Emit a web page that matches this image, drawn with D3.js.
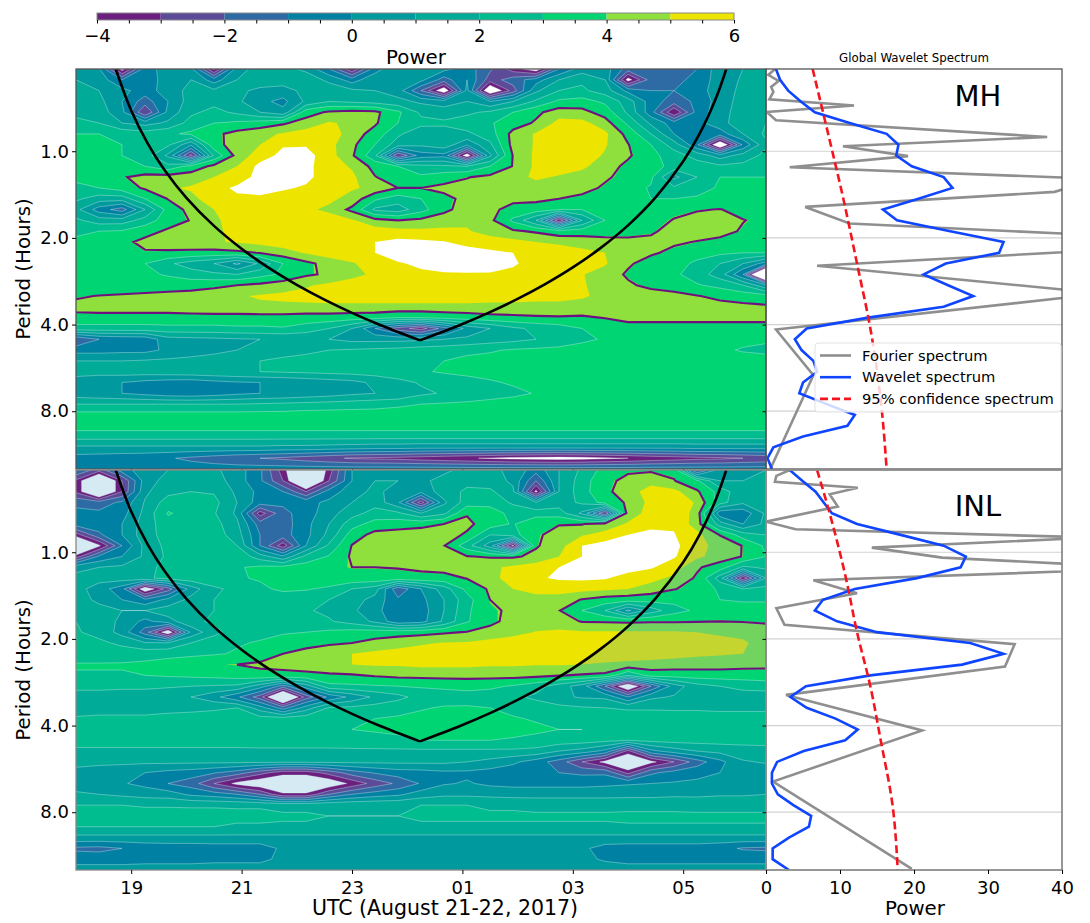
<!DOCTYPE html>
<html>
<head>
<meta charset="utf-8">
<script src="https://cdn.jsdelivr.net/npm/d3@7"></script>
<style>
body { margin: 0; background: #fff; }
text { font-family: "DejaVu Sans", sans-serif; fill: #000; }
</style>
</head>
<body>
<div id="box"></div>
<script>
// contour levels and colours
var levels = [-4, -3, -2, -1, 0, 1, 2, 3, 4, 5, 6];
var bandColors = ["#6b1f7f", "#5b4b98", "#2e6aa3", "#0081a3", "#009a9e", "#00ab98", "#00bd8f", "#00d574", "#8fe03c", "#ede500", "#ffffff"];
var dimColors = {4: "#72d35f", 5: "#c5d530"};

var hourTicks = [19, 21, 23, 25, 27, 29];
var hourLabels = ["19", "21", "23", "01", "03", "05"];
var periodTicks = [1, 2, 4, 8];
var powerTicks = [0, 10, 20, 30, 40];

// cone of influence, hours since 00 UTC Aug 21 and period in hours
var coiLeftHours = [18.72, 19, 19.3, 19.6, 20, 20.5, 21, 21.5, 22, 22.5, 23, 23.5, 24.23];
var coiLeftPeriods = [0.518, 0.722, 0.941, 1.16, 1.452, 1.817, 2.182, 2.547, 2.912, 3.277, 3.642, 4.007, 4.54];
var coiRightHours = [24.23, 25, 25.5, 26, 26.5, 27, 27.5, 28, 28.5, 29, 29.3, 29.6, 29.78];
var coiRightPeriods = [4.54, 3.982, 3.62, 3.258, 2.895, 2.533, 2.171, 1.809, 1.446, 1.084, 0.867, 0.649, 0.518];

// global spectra
var waveletMH = [1.35,1.9,3,4.7,6.6,11.3,16.3,17.9,17.6,19.7,24,25.2,20.6,15.8,17.7,24.9,32.1,31.5,24.3,21.3,24.6,28,24,13.8,5.5,3.9,4.8,6.4,6.9,5,4.5,8.2,12,11,5,1,0.2,0.8];
var waveletINL = [3.2,4.9,6.7,7.8,8.9,12.3,18.2,24,27,26.3,20.4,12,7.7,6.6,9.6,15,27.6,32.1,26.5,14.1,5.4,3.3,5.5,9.4,12.4,10.7,5.1,1.5,0.8,0.8,1.6,3.7,6.1,5.8,3.1,0.9,0.9,3.1];
var fourierPeriodsMH = [0.519,0.543,0.57,0.598,0.622,0.66,0.694,0.73,0.78,0.892,0.961,1.04,1.137,1.248,1.384,1.561,1.783,2.07,2.5,3.12,4.16,6,12.68];
var fourierMH = [1.2,0.3,1.7,0.7,1,0.45,11.9,0.1,1.35,38,10.4,19.2,3.2,45,39,5.3,11.3,64.7,6.9,45.6,1.35,6.4,0.6];
var fourierPeriodsINL = [0.518,0.543,0.569,0.597,0.629,0.694,0.783,0.832,0.889,0.964,1.044,1.137,1.251,1.388,1.565,1.788,2.087,2.495,3.13,4.16,6.26,12.58];
var fourierINL = [3.2,1.4,1.2,12.4,8.6,9.7,0,4,44.4,14.3,23.8,52.6,6.4,12.3,1.4,2.5,33.6,32.3,2.7,21.1,0.95,19.7];
var confRowsMH = [0, 6, 12, 18, 24, 30, 37];
var confMH = [6.3, 8.4, 10.45, 12.3, 14.1, 15.4, 16.3];
var confRowsINL = [0, 4, 10, 15, 20, 25, 31, 37];
var confINL = [6.9, 8.6, 10.8, 12.3, 14.1, 15.5, 17.1, 17.8];

// wavelet power, one row per scale (short to long period), one column per time step
var powerMH = [
[0.8,0.2,-4.5,-0.5,0.5,0.3,-4.2,0.5,1.5,1.3,0.8,-1,-3.8,-0.5,1,0.8,0.3,-0.5,-1.8,-3.5,-4.8,-1,0.5,0.5,-1.5,-1.5,-1.5,-1,0.6,1,1.2],
[1,0.6,-1,-1,0.8,1,-0.5,1,1.5,1.5,1.5,0.8,-0.5,0.8,1,0.3,-1.5,0,-2.5,-1.5,-0.5,1,1.8,1,-4.5,-1.5,-1.2,-0.8,0.6,1.1,1.3],
[1.2,1,0.3,-0.5,0.5,1.3,1.2,1.2,0.8,0.6,1.3,1.5,1.2,1,0.5,-2,-5,0.3,-5.5,-2.5,0.8,2,2.2,1.5,-0.3,-1,-1,-0.5,0.6,1.2,1.4],
[1.6,1.3,0,-1.5,0,1.5,1.7,1.2,0.3,-0.3,1.2,2,1.8,1.6,1.3,0.8,0.5,1,0,1,2.2,3.2,3.4,2.8,1.5,-0.5,-1.5,-0.8,0.5,1.4,1.6],
[1.8,1.5,0.3,-3,0.3,1.8,2.3,1.8,1,0.3,3.6,4.2,4.4,4.3,3.2,1.8,1.5,1.8,2.2,3,3.8,4.6,4.4,3.6,1.8,-0.6,-4,-0.6,0.6,1.5,1.8],
[2.2,2,1,0.6,1.2,2.4,3,3.2,3.5,3.9,4.5,5.1,4.8,4.2,3,2.3,2.2,2.5,2.9,3.5,4.2,5.3,5.3,4.5,2.8,0.8,-0.5,-0.3,0.6,1.7,2],
[3,3,2.7,2.5,2.8,3.2,3.8,4.4,4.7,5.1,5.4,5.5,4.6,3.6,2.2,1.3,1.5,1.8,2.5,4.4,5.1,5.7,5.7,5.2,3.7,2,0,-0.8,-0.5,1,2.2],
[3.2,3.2,3,2.6,2.2,0.2,3.7,4.5,5,5.9,5.9,5.3,4.3,3,1.5,1.2,1.6,0.2,1.8,4.4,5.1,5.6,5.6,5.1,4.1,3,1.5,-0.8,-5.5,-0.8,1.8],
[3.2,3.2,3,2.5,0.8,-3.3,2.2,4.4,5.5,6.3,6.4,5.4,4.2,2.2,-3,-0.5,-0.3,-4.8,0.8,4.1,5.2,5.6,5.5,4.9,4.2,3.3,2.5,1.6,0.5,1.4,2.3],
[3.3,3.3,3.1,3,2.3,3.4,4.3,5,6.3,6.6,6.3,5.4,4.9,3.7,3,2.3,2.2,2,3,4.1,5.2,5.5,5.2,4.5,3.8,3.5,2.6,2.5,2.2,2.3,2.6],
[3.2,3.4,3.95,4.4,4.5,4.6,5,5.7,6.2,6.4,6.2,5.6,5.2,4.1,3.5,3.2,3.6,4,4.3,4.6,5.2,4.9,4.6,4.2,3.7,3.2,0.7,2,3,3,3],
[2.8,3,3.5,4.2,4.9,5.1,5.8,6.1,6.2,6.1,5.9,5.6,5.1,4.8,4.05,4.05,4.3,4.4,4.4,4.4,4.5,4.4,4.4,3.9,3.4,2.9,2.2,2.7,3.1,3.1,3.1],
[2.2,1.5,1.5,3,4.1,4.8,5.4,5.9,5.9,5.7,5.5,5.2,4.7,3.2,2.5,3,3.8,4.3,4.4,4.3,4.3,4.05,3.8,3.4,3.2,3,3,3.1,3.2,3.2,3.2],
[1.3,-0.5,-1.5,1,3.4,4.4,5,5.8,5.8,5.6,5.2,4.8,3.8,1.8,1.5,2.6,3.8,4.5,4.3,3.7,3.5,3,3,3.2,3.3,3.4,3.8,3.95,4.1,3.6,3.4],
[2.2,1.5,1.5,2.4,3.6,4.1,4.8,5.5,5.7,5.7,5.6,5.5,5.1,4.4,4.05,4.3,4.6,4.8,4.3,2.8,1,-3.8,1,3,3.5,3.7,4.1,4.5,4.5,4.1,3.7],
[2.9,3,3.1,3.7,4.2,4.5,4.8,5.3,5.6,5.7,5.7,5.6,5.5,5.4,5.3,5.2,5.2,5.1,4.6,4.2,3.9,3.4,3.5,3.6,3.7,3.9,4.4,4.6,4.5,3.9,3.6],
[3.1,3.2,3.8,4.3,4.5,4.7,4.9,5.1,5.3,5.5,5.6,5.7,5.8,6,6.3,6.2,6.05,5.7,5.5,5.3,5,4.9,4.7,4.4,4.3,4.3,4.2,4,3.7,3.6,3.5],
[3.1,3.4,3.9,3.95,3.9,3.8,3.7,3.8,4.1,4.6,5.1,5.5,5.7,6,6.5,6.6,6.5,6.4,6.2,6,5.4,5.3,5.2,5,4.6,4.2,3.8,3.4,3.2,3,3],
[3,3.1,3.2,3,2.2,1.5,1,-0.2,1.2,3,3.8,4.4,4.9,5.5,5.9,6.2,6.4,6.6,6.5,6.1,5.7,5.6,5.4,5.1,4.2,3.6,3.4,2.8,2,1,-0.5],
[3,3.1,3.2,3.2,2.9,2.5,2.2,2,2.6,3.2,3.9,4.2,4.7,5.2,5.6,5.8,5.9,5.9,5.9,5.8,5.7,5.4,5.05,4.6,3.9,3.5,3.2,2.5,1.5,-1,-9],
[3.1,3.1,3.3,3.4,3.5,3.6,3.8,4.05,4.3,4.6,4.9,5.2,5.5,5.6,5.7,5.7,5.8,5.7,5.6,5.6,5.5,5.4,5.1,4.6,4.2,3.8,3.5,3.1,2.7,2,0.2],
[3.9,4.1,4.2,4.3,4.4,4.5,4.7,4.9,5.1,5.2,5.3,5.4,5.4,5.4,5.4,5.4,5.4,5.4,5.3,5.3,5.2,5.2,5.1,4.8,4.6,4.5,4.4,4.1,3.8,3.6,3.4],
[4.4,4.5,4.5,4.5,4.5,4.6,4.7,4.7,4.8,4.8,4.8,4.8,4.8,4.8,4.8,4.8,4.8,4.8,4.8,4.8,4.8,4.8,4.7,4.7,4.6,4.6,4.5,4.5,4.4,4.3,4.2],
[3.7,3.7,3.7,3.7,3.7,3.7,3.7,3.7,3.7,3.7,3.6,3.6,3.5,3.4,3,3,3.3,3.5,3.7,3.8,3.9,3.95,3.9,4.1,4.3,4.3,4.3,4.3,4.3,4.3,4.3],
[2.6,2.6,2.6,2.6,2.7,2.7,2.7,2.8,2.8,2.9,2.5,2,1,-1,-2.5,-3.5,-1.5,0.3,1,1.8,2.2,2.5,3,3.2,3.7,3.7,3.7,3.7,3.7,3.7,3.7],
[-2,-1,-0.8,-0.7,0.6,0.7,0.8,0.9,1,1.1,1.2,1,0.7,0.7,0.7,0.8,1,1.2,1.5,1.7,2,2.3,2.8,3.1,3.4,3.5,3.5,3.5,3.4,3.3,3.2],
[-0.4,-0.4,-0.3,-0.3,0.2,0.5,0.7,1,1.3,1.6,1.8,2,2.1,2.2,2.3,2.5,2.6,2.8,2.9,3.1,3.2,3.3,3.4,3.4,3.4,3.4,3.4,3.4,3.2,2.9,2.7],
[1,1,1,1.1,1.2,1.3,1.5,1.7,2,2.2,2.3,2.4,2.5,2.6,2.7,2.9,3,3.2,3.3,3.4,3.5,3.5,3.5,3.5,3.5,3.5,3.5,3.5,3.5,3.5,3.5],
[1.4,1.4,1.5,1.5,1.6,1.7,1.8,1.9,2,2.1,2.2,2.3,2.4,2.5,2.6,2.9,3.1,3.2,3.3,3.4,3.5,3.6,3.6,3.6,3.6,3.6,3.6,3.6,3.6,3.6,3.6],
[0.5,0.2,0,-0.3,-0.5,-0.6,-0.3,-0.1,0,0.1,0.3,0.5,0.7,1.2,1.7,2.1,2.4,2.7,2.9,3.1,3.3,3.5,3.6,3.6,3.6,3.6,3.6,3.6,3.6,3.6,3.6],
[0.4,0.2,0,-0.3,-0.6,-0.7,-0.5,-0.2,0,0.1,0.3,0.5,0.8,1,1.1,1.8,2.1,2.3,2.6,2.8,3.05,3.3,3.5,3.5,3.5,3.5,3.5,3.5,3.5,3.5,3.5],
[2,2,2,2,2,2,2,2,2.1,2.2,2.3,2.4,2.5,2.6,2.8,3,3.1,3.2,3.3,3.4,3.5,3.6,3.6,3.6,3.6,3.6,3.6,3.6,3.6,3.6,3.6],
[3.4,3.4,3.4,3.4,3.4,3.4,3.4,3.4,3.4,3.4,3.5,3.5,3.5,3.5,3.5,3.5,3.5,3.6,3.6,3.6,3.6,3.6,3.6,3.6,3.6,3.6,3.6,3.6,3.6,3.6,3.6],
[3.5,3.5,3.5,3.5,3.5,3.5,3.5,3.5,3.5,3.5,3.5,3.5,3.5,3.5,3.5,3.5,3.5,3.5,3.5,3.5,3.5,3.5,3.5,3.5,3.5,3.5,3.5,3.5,3.5,3.5,3.5],
[2.4,2.4,2.4,2.4,2.4,2.4,2.4,2.4,2.4,2.4,2.4,2.4,2.4,2.4,2.4,2.4,2.4,2.4,2.4,2.4,2.4,2.4,2.4,2.4,2.4,2.4,2.4,2.4,2.4,2.4,2.4],
[0.8,0.8,0.8,0.8,0.8,0.8,0.8,0.8,0.8,0.7,0.7,0.6,0.5,0.4,0.4,0.3,0.3,0.3,0.3,0.3,0.3,0.3,0.3,0.3,0.3,0.3,0.3,0.4,0.4,0.4,0.4],
[-0.4,-0.5,-0.6,-0.7,-0.9,-1.2,-1.5,-1.8,-2,-2.2,-2.5,-2.8,-3.1,-3.2,-3.3,-3.5,-3.7,-3.9,-4.1,-4.3,-4.4,-4.5,-4.4,-4.2,-4,-3.7,-3.5,-3.3,-3.2,-3,-2.8],
[-0.5,-0.5,-0.5,-0.5,-0.5,-0.5,-0.5,-0.5,-0.5,-0.5,-0.5,-0.5,-0.5,-0.5,-0.5,-0.5,-0.5,-0.5,-0.5,-0.5,-0.5,-0.5,-0.5,-0.5,-0.5,-0.5,-0.5,-0.5,-0.5,-0.5,-0.5]
];

var powerINL = [
[-1,-2.5,-0.5,0.6,1,1.2,1.2,0.5,-0.8,-3.5,-7,-3.5,0,0.8,0.5,0.3,0.8,1.3,1.2,0.8,-0.6,1,2.2,3.4,3.9,3.9,3.8,-2.5,0.5,0.8,1],
[-3.2,-6.5,-3,0.5,1.4,1.6,1.5,0.5,-0.8,-3,-7,-3,0,1,1,0.8,1.3,1.7,1.5,0.8,-2,1,2.5,3.8,4.3,4.7,4.1,3.2,1,1,1],
[-3.2,-6.5,-3,0.8,1.7,2,1.9,0.8,-0.3,-1,-3,-0.5,0.5,1.3,0.5,0.3,1.5,2.2,2.2,1.2,-4.3,1,2.6,3.8,4.6,5.4,5.3,4.2,2.6,1.2,1.3],
[-1.2,-1.5,-0.8,1.1,2.5,2.6,2.3,1,-0.5,-0.8,-0.3,0.2,1,1.6,0.2,-3.5,0.8,2.5,2.8,1.8,1,1.5,2.2,3.4,4.2,5.3,5.6,4.9,2.4,1.2,1.4],
[-0.8,-0.8,-0.4,1.3,3.1,2.6,2.1,0.8,-3.5,-1.3,-0.5,0.6,1.6,2.4,2.2,1,1.8,3.95,3.3,2.8,2.5,2.5,0.8,-3,4.6,5.3,5.8,4.6,-0.7,-0.7,1.2],
[-0.5,-0.5,0,1.5,2.6,2.6,2.4,1.2,-1.5,-1.5,-0.3,1,2.6,3.4,3.6,3.8,4.05,4.3,3.5,2.9,3.95,4,4,4.5,5.1,5.6,5.9,4.5,1.5,0,1.3],
[-3.5,-1.2,0,1.6,2.4,2.6,2.5,1.5,-1,-1.4,-0.3,1.3,3.5,4.4,4.5,4.5,4.5,3.9,2,2.6,3.9,4.4,4.9,5.3,6,6.4,6.05,5.3,4,2.5,2],
[-7,-4.2,-1,1.3,2.3,2.6,2.7,2,-1,-3.6,0,2.2,4.1,4.5,4.6,4.7,4.1,2.4,0.5,-4.3,3.95,4.6,6,6.5,6.7,6.7,6.3,5.2,4.8,4,2.8],
[-3.5,-0.8,0,1.2,2.2,2.7,2.8,2.7,1.5,0.2,2.3,3.1,4.2,4.5,4.6,4.7,4.5,4.1,3.95,3.9,4.3,5,6,6.6,6.8,6.6,6.1,5.2,4.6,4,3],
[0.8,1,1.2,1.8,2.2,2.6,2.8,2.9,3.2,3.3,3.5,3.8,4.05,4.05,4.1,4.2,4.4,4.6,4.8,5.2,5.5,6,6.6,6.7,6.4,6.1,5.5,4.2,3.5,1.8,2.2],
[1.2,1.4,1.5,1.8,2.3,2.6,2.7,2.9,3.1,3.3,3.6,3.7,3.7,3.7,3.7,3.8,3.7,4.1,4.7,5.4,5.9,6.1,6.2,6.1,5.6,5.3,4.8,3.9,1.5,-3.8,1],
[1.4,0.5,-0.6,-5,-2.5,0.5,1.8,2.3,2.8,3.2,3.1,2.8,2,1.5,-1.8,0,1.5,3.3,4.2,5,5.4,5.5,5.3,5.2,5,4.6,4.1,3.7,2.8,2,2.3],
[1.4,0.8,0,-0.8,0.3,1.3,2,2.2,2.3,2.4,2.3,2,1.5,0.6,-0.8,-0.3,1,2.6,4.05,4.5,4.6,4.5,4,3.6,3.5,3.4,3.3,3.1,3,2.9,2.9],
[1.5,1.3,1,1,1.5,1.9,2,2,2.1,2.1,2.1,1.8,1.2,0.3,-0.7,-0.5,1,2.8,3.9,4.2,4.3,4.1,3,2,-0.2,1.5,2.6,3.2,3.4,3.4,3.4],
[2,1.5,0.8,-0.3,0.6,1.7,2.2,2.3,2.4,2.5,2.4,2.1,1.6,0.8,-0.7,-0.4,1.2,2.9,3.8,4.4,4.5,4.4,4,3.95,3.9,3.95,3.95,4,4.05,4,3.9],
[2.1,1.7,0.6,-1.5,-5,0.3,1.7,2.5,2.7,2.9,3,3.2,3.4,3.5,3.6,3.7,3.9,4.1,4.4,4.7,5.05,5.2,5.1,5.1,5.1,5.1,5.1,5,4.9,4.8,4.6],
[2.2,2.2,1.8,1.1,1.1,2,2.6,2.9,3.1,3.4,3.7,3.9,4.05,4.4,4.7,4.9,5.05,5.1,5.3,5.5,5.5,5.5,5.5,5.5,5.5,5.5,5.4,5.3,5.2,5.1,4.7],
[2.4,2.4,2.5,2.6,2.7,2.8,2.9,3.1,3.6,4.05,4.4,4.7,5,5.2,5.3,5.4,5.5,5.5,5.5,5.5,5.5,5.5,5.5,5.4,5.4,5.4,5.3,5.2,5.1,5,4.6],
[3.1,3.1,3.1,3.2,3.4,3.6,3.95,4.05,4.2,4.3,4.5,4.7,5,5.1,5.1,5.2,5.2,5.2,5.1,5.1,5.05,5.05,5,4.9,4.8,4.7,4.6,4.5,4.5,4.4,4.3],
[2.9,2.9,2.9,3,3.1,3.2,3.3,3.5,3.8,3.8,3.8,3.9,3.95,4.15,4.3,4.35,4.4,4.4,4.4,4.4,4.3,4.1,3.95,3.8,2,3.4,3.4,3.5,3.5,3.5,3.6],
[2.3,2.3,2.2,2.2,2.1,2,1.9,1.8,0.5,-1.5,0.5,2.7,2.8,2.9,3,3.1,3.2,3.3,3.2,2.9,2.4,1.5,0.5,-2,-5.5,-2,0.5,1.6,2,2.3,2.4],
[1.5,1.5,1.5,1.5,1.4,1,0.3,-0.8,-2.5,-7,-2.5,-0.8,0.3,1.2,1.7,2.4,2.5,2.6,2.5,2.2,1.8,1.2,0.9,0.8,-1,0.8,1.1,1.3,1.4,1.5,1.5],
[1.6,1.6,1.6,1.6,1.7,1.8,1.9,2,0.5,-1.5,0.5,2.1,2.2,2.4,2.7,2.9,3.1,3.1,3,2.7,2.5,2.3,2.1,2,1.9,1.9,1.9,1.9,1.9,1.9,1.9],
[2.1,2.2,2.2,2.2,2.3,2.3,2.3,2.4,2.4,2.5,2.6,2.7,2.9,3,3.1,3.3,3.3,3.4,3.3,3.1,2.9,2.7,2.6,2.5,2.4,2.4,2.3,2.3,2.2,2.2,2.2],
[2.6,2.6,2.6,2.6,2.6,2.6,2.7,2.7,2.7,2.8,2.8,2.9,3,3.1,3.2,3.4,3.5,3.5,3.4,3.3,3.2,3,3,2.9,2.9,2.8,2.8,2.8,2.8,2.8,2.8],
[2.4,2.4,2.4,2.4,2.4,2.4,2.4,2.4,2.5,2.5,2.5,2.5,2.6,2.7,2.8,3,3,3,3,2.9,2.7,2.6,2.5,2.3,2,2.3,2.4,2.4,2.4,2.4,2.4],
[1.8,1.8,1.8,1.8,1.8,1.8,1.8,1.8,1.8,1.8,1.8,1.8,1.8,1.8,1.8,1.8,1.8,1.8,1.8,1.8,1.7,1,0.6,-0.3,-3.3,-0.3,0.5,1,1.3,1.5,1.6],
[1.2,1.2,1.2,1.2,1.2,1.2,1.2,1.2,1.2,1.2,1.2,1.2,1.2,1.2,1.2,1.2,1.2,1,0.7,0.2,-0.5,-1.5,-3,-4.3,-6,-4.3,-3,-1.5,-0.3,0.9,1.1],
[0.8,0.6,0.4,0,-0.3,-0.5,-0.9,-1.5,-2.6,-3.6,-3.6,-2.6,-1.5,-0.9,-0.5,-0.4,-0.2,-0.2,-0.4,-0.6,-0.8,-1,-1.2,-1.2,-3.3,-1.2,-0.6,-0.3,0,0.2,0.4],
[0.4,0.3,0.1,-0.3,-1,-1.5,-3,-4.3,-5,-5.4,-5.4,-5,-3.7,-2.6,-1.8,-0.9,-0.1,0.1,-0.2,-0.3,-0.3,-0.3,-0.3,-0.2,-0.1,0,0.1,0.2,0.3,0.4,0.4],
[1.2,1,0.8,0.6,0.5,-0.2,-0.5,-1,-2,-3.8,-3.8,-2,-1,-0.5,-0.2,0.5,0.8,0.8,0.7,0.6,0.6,0.6,0.6,0.6,0.7,0.7,0.8,0.8,0.9,0.9,1],
[2,2,2,1.9,1.9,1.9,1.9,1.9,1.9,1.8,1.8,1.9,1.9,1.9,1.9,2,2,2,1.9,1.9,1.8,1.8,1.8,1.8,1.7,1.7,1.7,1.6,1.6,1.6,1.6],
[2.4,2.4,2.4,2.4,2.4,2.3,2.3,2.2,2.2,2.1,2.1,2,2,2,2,2.1,2.1,2.1,2.1,2.1,2.1,2.1,2.1,2.1,2.2,2.2,2.2,2.2,2.2,2.2,2.2],
[2,2,2,2,2,2,2,1.9,1.9,1.9,1.9,1.9,1.9,1.9,1.9,1.9,1.9,1.9,1.9,1.9,1.9,1.9,1.9,1.9,1.9,1.9,1.9,1.9,1.9,1.9,1.9],
[0.7,0.7,0.7,0.7,0.7,0.7,0.7,0.7,0.7,0.7,0.7,0.7,0.7,0.7,0.7,0.7,0.7,0.7,0.7,0.7,0.7,0.7,0.7,0.7,0.7,0.7,0.7,0.7,0.7,0.7,0.7],
[-1.2,-1.3,-1,-0.7,-0.6,-0.6,-0.5,-0.5,-0.5,0.2,0.2,0.2,0.2,0.2,0.2,0.2,0.2,0.2,0.2,0.2,0.2,0.2,0.2,-0.4,-0.5,-0.5,-0.5,-0.5,-0.7,-1.1,-1.2],
[-0.4,-0.4,-0.4,-0.3,-0.3,-0.3,-0.2,-0.2,-0.2,0.2,0.2,0.2,0.2,0.2,0.2,0.2,0.2,0.2,0.2,0.2,0.2,0.2,0.2,-0.1,-0.3,-0.3,-0.3,-0.3,-0.3,-0.3,-0.3],
[0.4,0.4,0.4,0.4,0.4,0.4,0.4,0.4,0.4,0.4,0.4,0.4,0.4,0.4,0.4,0.4,0.4,0.4,0.4,0.4,0.4,0.4,0.4,0.4,0.4,0.4,0.4,0.4,0.4,0.4,0.4]
];

var w = 1090, h = 923;
var panelH = 400;
var tops = [69, 470];
var nCols = powerMH[0].length, nRows = powerMH.length;

var svg = d3.select("#box").append("svg").attr("width", w).attr("height", h);
var defs = svg.append("defs");

var x = d3.scaleLinear().domain([18, 30.5]).range([76, 766]);
var y = d3.scaleLog().base(2).domain([0.518, 12.7]).range([0, panelH]);
var xp = d3.scaleLinear().domain([0, 40]).range([766, 1062]);
var colX = d3.scaleLinear().domain([0, nCols - 1]).range(x.domain());
var rowY = d3.scaleLinear().domain([0, nRows - 1]).range([0, panelH]);

function rowPeriod(r) { return y.invert(rowY(r)); }

function drawContours(g, values, thresholds, colors, seam) {
  var contours = d3.contours().size([nCols, nRows]).thresholds(thresholds)(values.flat());
  var path = d3.geoPath(d3.geoTransform({
    point: function(cx, cy) {
      this.stream.point(x(colX(cx - 0.5)), rowY(cy - 0.5));
    }
  }));
  g.selectAll(null)
   .data(contours)
   .enter()
   .append("path")
   .attr("d", path)
   .attr("fill", function(d, i) { return colors ? colors[i] : "none"; })
   .attr("stroke", function(d) {
     if (!colors) return "#6f0f80";
     return seam && d.value <= 3 ? "rgba(225,245,240,0.45)" : "none";
   })
   .attr("stroke-width", colors ? 0.8 : 2.1);
}

function drawHeat(top, values, site) {
  var id = "clip" + site;
  defs.append("clipPath").attr("id", id)
      .append("rect").attr("x", 76).attr("y", 0).attr("width", 690).attr("height", panelH);
  var g = svg.append("g").attr("transform", "translate(0," + top + ")");
  var plot = g.append("g").attr("clip-path", "url(#" + id + ")");
  plot.append("rect").attr("x", 76).attr("width", 690).attr("height", panelH)
      .attr("fill", site === "INL" ? "#d6eaf4" : "#ffffff");
  drawContours(plot, values, levels, bandColors, true);

  var coiLine = d3.line()
      .x(function(d) { return x(d[0]); })
      .y(function(d) { return y(d[1]); })
      .curve(d3.curveCatmullRom);
  var left = d3.zip(coiLeftHours, coiLeftPeriods);
  var right = d3.zip(coiRightHours, coiRightPeriods);

  // the high bands look washed out right of the cone in the lower panel
  if (site === "INL") {
    var wash = "M" + x(30.5) + "," + y(0.518) + "L" +
      right.slice().reverse().map(function(d) { return x(d[0]) + "," + y(d[1]); }).join("L") +
      "L" + x(30.5) + "," + panelH + "Z";
    defs.append("clipPath").attr("id", "washClip").append("path").attr("d", wash);
    var washG = plot.append("g").attr("clip-path", "url(#washClip)");
    drawContours(washG, values, [4, 5], [dimColors[4], dimColors[5]], false);
  }

  drawContours(plot, values, [4.05], null, false);

  plot.append("path").datum(left).attr("d", coiLine)
      .attr("fill", "none").attr("stroke", "#000").attr("stroke-width", 2.6);
  plot.append("path").datum(right).attr("d", coiLine)
      .attr("fill", "none").attr("stroke", "#000").attr("stroke-width", 2.6);

  g.append("rect").attr("x", 76).attr("width", 690).attr("height", panelH)
   .attr("fill", "none").attr("stroke", site === "INL" ? "#888" : "#555").attr("stroke-width", 1.3);

  var yAxis = d3.axisLeft(y).tickValues(periodTicks).tickSize(4)
      .tickFormat(function(d) { return d3.format(".1f")(d); });
  var ya = g.append("g").attr("transform", "translate(76,0)").call(yAxis);
  ya.select(".domain").remove();
  ya.selectAll("text").attr("font-size", 18);

  var xAxis = d3.axisBottom(x).tickValues(hourTicks).tickSize(4)
      .tickFormat(function(d, i) { return site === "INL" ? hourLabels[i] : ""; });
  var xa = g.append("g").attr("transform", "translate(0," + panelH + ")").call(xAxis);
  xa.select(".domain").remove();
  xa.selectAll("text").attr("font-size", 18).attr("dy", "0.95em");

  g.append("text")
   .attr("transform", "translate(30," + (panelH / 2) + ") rotate(-90)")
   .attr("text-anchor", "middle")
   .attr("font-size", 19.8)
   .text("Period (Hours)");
}

function drawSpectrum(top, site, wavelet, fourierP, fourier, confRows, conf) {
  var id = "specClip" + site;
  defs.append("clipPath").attr("id", id)
      .append("rect").attr("x", 766).attr("y", 0).attr("width", 296).attr("height", panelH);
  var g = svg.append("g").attr("transform", "translate(0," + top + ")");
  var plot = g.append("g").attr("clip-path", "url(#" + id + ")");

  plot.selectAll(".grid")
      .data(periodTicks)
      .enter()
      .append("line")
      .attr("x1", 766).attr("x2", 1062)
      .attr("y1", function(d) { return y(d); })
      .attr("y2", function(d) { return y(d); })
      .attr("stroke", "#d2d2d2").attr("stroke-width", 1.2);

  var line = d3.line()
      .x(function(d) { return xp(d[1]); })
      .y(function(d) { return y(d[0]); });

  plot.append("path").datum(d3.zip(fourierP, fourier)).attr("d", line)
      .attr("fill", "none").attr("stroke", "#8f8f8f").attr("stroke-width", 2.6);
  plot.append("path").datum(wavelet.map(function(v, i) { return [rowPeriod(i), v]; })).attr("d", line)
      .attr("fill", "none").attr("stroke", "#0f45ff").attr("stroke-width", 2.6);
  plot.append("path").datum(conf.map(function(v, i) { return [rowPeriod(confRows[i]), v]; })).attr("d", line.curve(d3.curveMonotoneY))
      .attr("fill", "none").attr("stroke", "#f5141e").attr("stroke-width", 2.6).attr("stroke-dasharray", "8,4");

  g.append("rect").attr("x", 766).attr("width", 296).attr("height", panelH)
   .attr("fill", "none").attr("stroke", site === "INL" ? "#8c8c8c" : "#555").attr("stroke-width", site === "INL" ? 1.8 : 1.3);

  var ya = g.append("g").attr("transform", "translate(766,0)").call(d3.axisLeft(y).tickValues(periodTicks).tickSize(3.5).tickFormat(""));
  ya.select(".domain").remove();

  g.append("text")
   .attr("x", 978)
   .attr("y", site === "MH" ? 37 : 46)
   .attr("text-anchor", "middle")
   .attr("font-size", 29)
   .text(site);
}

drawHeat(tops[0], powerMH, "MH");
drawHeat(tops[1], powerINL, "INL");
drawSpectrum(tops[0], "MH", waveletMH, fourierPeriodsMH, fourierMH, confRowsMH, confMH);
drawSpectrum(tops[1], "INL", waveletINL, fourierPeriodsINL, fourierINL, confRowsINL, confINL);

// power axis under the lower spectrum
var pa = svg.append("g").attr("transform", "translate(0," + (tops[1] + panelH) + ")")
    .call(d3.axisBottom(xp).tickValues(powerTicks).tickSize(4));
pa.select(".domain").remove();
pa.selectAll("text").attr("font-size", 18).attr("dy", "0.95em");

svg.append("text").attr("x", 445).attr("y", 915).attr("text-anchor", "middle").attr("font-size", 20.5)
   .text("UTC (August 21-22, 2017)");
svg.append("text").attr("x", 915).attr("y", 915).attr("text-anchor", "middle").attr("font-size", 19.8)
   .text("Power");
svg.append("text").attr("x", 914).attr("y", 62).attr("text-anchor", "middle").attr("font-size", 11.8)
   .text("Global Wavelet Spectrum");

// colour bar
var cb = d3.scaleLinear().domain([-4, 6]).range([97, 734]);
svg.selectAll(".cb")
   .data(d3.pairs(levels))
   .enter()
   .append("rect")
   .attr("x", function(d) { return cb(d[0]); })
   .attr("y", 13)
   .attr("width", function(d) { return cb(d[1]) - cb(d[0]); })
   .attr("height", 7)
   .attr("fill", function(d, i) { return bandColors[i]; });
svg.append("rect").attr("x", 97).attr("y", 13).attr("width", 637).attr("height", 7)
   .attr("fill", "none").attr("stroke", "#888").attr("stroke-width", 1);
var cbAxis = d3.axisBottom(cb).tickValues(d3.range(-4, 6.5, 0.5)).tickSize(3.5)
    .tickFormat(function(d) { return d % 2 === 0 ? d3.format("d")(d) : ""; });
var cbG = svg.append("g").attr("transform", "translate(0,20)").call(cbAxis);
cbG.select(".domain").remove();
cbG.selectAll("text").attr("font-size", 18).attr("dy", "0.85em");
svg.append("text").attr("x", 416).attr("y", 64).attr("text-anchor", "middle").attr("font-size", 19.8).text("Power");

// legend
var legendNames = ["Fourier spectrum", "Wavelet spectrum", "95% confidence spectrum"];
var legendColors = ["#8f8f8f", "#0f45ff", "#f5141e"];
var lg = svg.append("g");
lg.append("rect").attr("x", 815).attr("y", 343).attr("width", 246).attr("height", 69).attr("rx", 3)
  .attr("fill", "rgba(255,255,255,0.8)").attr("stroke", "#e2e2e2");
legendNames.forEach(function(name, i) {
  var ly = 355.5 + i * 21.7;
  lg.append("line").attr("x1", 820).attr("x2", 851).attr("y1", ly).attr("y2", ly)
    .attr("stroke", legendColors[i]).attr("stroke-width", 2.6)
    .attr("stroke-dasharray", i === 2 ? "8,4" : null);
  lg.append("text").attr("x", 862).attr("y", ly + 5).attr("font-size", 14.7).text(name);
});
</script>
</body>
</html>
